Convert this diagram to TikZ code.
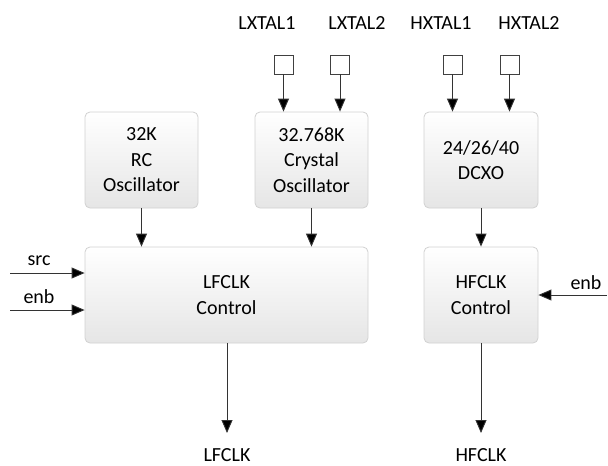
\documentclass[tikz,border=0pt]{standalone}
\usepackage{fontspec}
\setmainfont{Carlito}
\usetikzlibrary{arrows.meta,calc}
\begin{document}
\begin{tikzpicture}[x=1pt,y=-1pt,
  every node/.style={font=\fontsize{20}{25.5}\selectfont, text=black},
  blk/.style={draw=black!18, line width=0.8pt, rounded corners=5pt,
    top color=white, bottom color=black!10, align=center, inner sep=0pt},
  pin/.style={draw=black!75, line width=0.8pt, minimum size=19pt, inner sep=0pt, fill=white},
  lbl/.style={inner sep=0pt, anchor=center},
  conn/.style={draw=black!80, line width=0.9pt, -{Triangle[length=13pt,width=11pt,fill=black]}}
]
\useasboundingbox (0,0) rectangle (608,466);
% blocks
\node[blk, minimum width=113pt, minimum height=96pt] (rc) at (141.5,160) {32K\\RC\\Oscillator};
\node[blk, minimum width=113pt, minimum height=96pt] (xo) at (311.5,160) {32.768K\\Crystal\\Oscillator};
\node[blk, minimum width=114pt, minimum height=96pt] (dcxo) at (481,160) {24/26/40\\DCXO};
\node[blk, minimum width=283pt, minimum height=96pt] (lf) at (226.5,295) {LFCLK\\Control};
\node[blk, minimum width=114pt, minimum height=96pt] (hf) at (481,295) {HFCLK\\Control};
% pins
\node[pin] (p1) at (283.5,64.5) {};
\node[pin] (p2) at (340,64.5) {};
\node[pin] (p3) at (452.5,64.5) {};
\node[pin] (p4) at (509.5,64.5) {};
% pin labels
\node[lbl] (l1) at (267,23) {LXTAL1};
\node[lbl] (l2) at (357,23) {LXTAL2};
\node[lbl] (l3) at (441,23) {HXTAL1};
\node[lbl] (l4) at (529,23) {HXTAL2};
% signal labels
\node[lbl] (srcl) at (39,261) {src};
\node[lbl] (enbl) at (39,297) {enb};
\node[lbl] (enbr) at (586,283) {enb};
\node[lbl] (lfo) at (227,455) {LFCLK};
\node[lbl] (hfo) at (481,455) {HFCLK};
% free ends
\coordinate (srcin) at (10,273);
\coordinate (enbin) at (10,310);
\coordinate (enbrin) at (607,295);
\coordinate (lfend) at (227,433);
\coordinate (hfend) at (481,433);
% connectors
\draw[conn] (p1) -- (p1 |- xo.north);
\draw[conn] (p2) -- (p2 |- xo.north);
\draw[conn] (p3) -- (p3 |- dcxo.north);
\draw[conn] (p4) -- (p4 |- dcxo.north);
\draw[conn] (rc.south) -- (rc.south |- lf.north);
\draw[conn] (xo.south) -- (xo.south |- lf.north);
\draw[conn] (dcxo.south) -- (hf.north);
\draw[conn] (srcin) -- (srcin -| lf.west);
\draw[conn] (enbin) -- (enbin -| lf.west);
\draw[conn] (enbrin) -- (enbrin -| hf.east);
\draw[conn] (lf.south -| lfend) -- (lfend);
\draw[conn] (hf.south) -- (hfend);
\end{tikzpicture}
\end{document}
